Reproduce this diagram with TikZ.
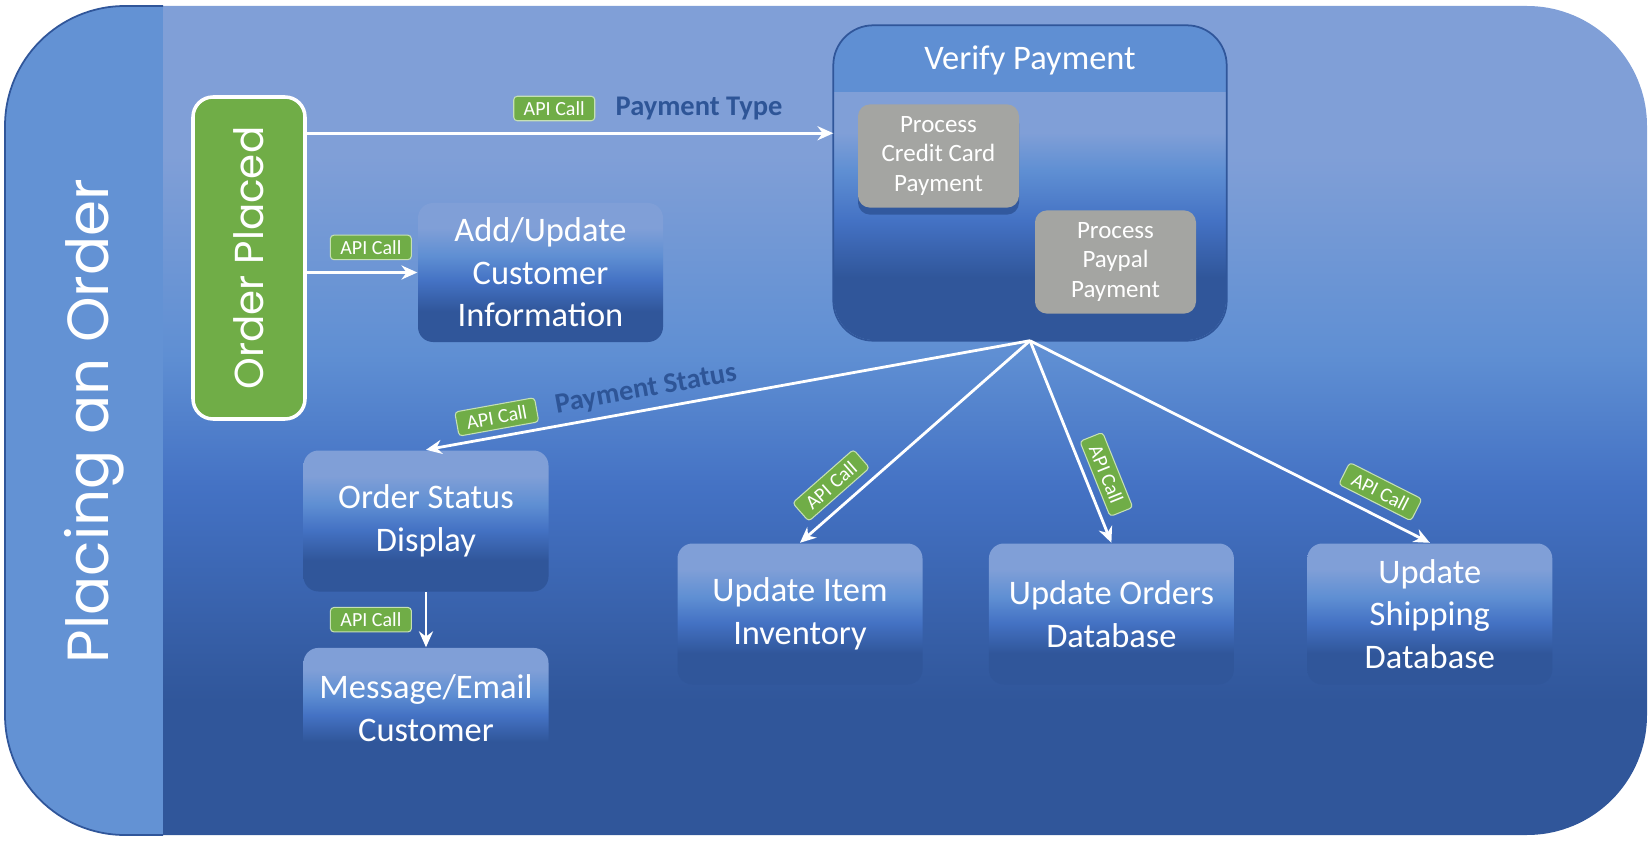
\documentclass[tikz,border=0pt]{standalone}
\usepackage{fontspec}
\setmainfont{Carlito}
\newfontfamily\gothicfont{Poppins}
\usetikzlibrary{positioning, arrows.meta, shadows}

\definecolor{pnllight}{HTML}{809FD7}
\definecolor{pnlband}{HTML}{5F8FD3}
\definecolor{pnlmid}{HTML}{4472C4}
\definecolor{pnldark}{HTML}{30569A}
\definecolor{laneblue}{HTML}{6392D4}
\definecolor{ordergreen}{HTML}{70AD47}
\definecolor{apiedge}{HTML}{C5E0B4}
\definecolor{procgray}{HTML}{A4A5A2}
\definecolor{labelblue}{HTML}{2E5597}

\pgfdeclareverticalshading{panelfade}{100bp}{color(0bp)=(pnldark); color(33bp)=(pnldark); color(46bp)=(pnlmid); color(54bp)=(pnlband); color(66bp)=(pnllight); color(100bp)=(pnllight)}
\pgfdeclareverticalshading{boxfade}{100bp}{color(0bp)=(pnldark); color(36bp)=(pnldark); color(47bp)=(pnlmid); color(56bp)=(pnlband); color(66bp)=(pnllight); color(100bp)=(pnllight)}
\pgfdeclareverticalshading{verifyfade}{100bp}{color(0bp)=(pnldark); color(35bp)=(pnldark); color(44bp)=(pnlmid); color(52bp)=(pnlband); color(58bp)=(pnllight); color(100bp)=(pnllight)}

\begin{document}
\begin{tikzpicture}[
        node distance=0.6cm,
        fadebox/.style={
            rectangle,
            rounded corners=0.15cm,
            shade,
            shading=boxfade,
            minimum width=2.45cm,
            minimum height=1.41cm,
            align=center,
            text=white,
            font=\fontsize{9.8}{12.1}\selectfont
        },
        procbox/.style={
            rectangle,
            rounded corners=0.12cm,
            fill=procgray,
            minimum width=1.61cm,
            minimum height=0.98cm,
            align=center,
            text=white,
            font=\fontsize{7.1}{8.5}\selectfont,
            drop shadow={shadow xshift=0pt, shadow yshift=-0.07cm, fill=pnldark, opacity=0.9}
        },
        apicall/.style={
            rectangle,
            rounded corners=1pt,
            fill=ordergreen,
            draw=apiedge,
            line width=0.3pt,
            minimum width=0.81cm,
            minimum height=0.245cm,
            inner sep=0pt,
            text=white,
            font=\fontsize{5.7}{6}\selectfont
        },
        flowlabel/.style={
            text=labelblue,
            inner sep=0pt,
            font=\bfseries\fontsize{8.1}{9}\selectfont
        },
        arrow/.style={
            -{Stealth[length=4.5pt, width=4pt]},
            white,
            line width=0.8pt
        }
    ]

        \useasboundingbox (0,0) rectangle (16.5,8.42);

        % background panel and swimlane
        \shade[shading=panelfade, rounded corners=1.2cm] (0.05,0.07) rectangle (16.47,8.36);
        \begin{scope}
            \clip[rounded corners=1.2cm] (0.05,0.07) rectangle (16.47,8.36);
            \fill[laneblue] (0.05,0.07) rectangle (1.63,8.36);
        \end{scope}
        \draw[pnldark, line width=0.5pt, rounded corners=1.2cm] (1.63,0.07) -- (0.05,0.07) -- (0.05,8.36) -- (1.63,8.36);

        \node[rotate=90, anchor=base, inner sep=0pt, text=white, font=\gothicfont\fontsize{16.5}{18}\selectfont] (lane) at (1.08,4.21) {Placing an Order};

        \node[rectangle, rounded corners=0.2cm, fill=ordergreen, draw=white, line width=1pt, minimum width=1.12cm, minimum height=3.22cm, text=white, font=\gothicfont\fontsize{11.5}{13}\selectfont] (placed) at (2.49,5.84) {\rotatebox{90}{Order Placed}};

        \node[fadebox, minimum height=1.39cm] (addcust) at (5.405,5.695) {Add/Update\\Customer\\Information};

        % verify payment container
        \node[rectangle, rounded corners=0.4cm, shade, shading=verifyfade, minimum width=3.92cm, minimum height=3.14cm] (verify) at (10.30,6.59) {};
        \coordinate (headline) at (10.30,7.50);
        \begin{scope}
            \clip[rounded corners=0.4cm] (verify.south west) rectangle (verify.north east);
            \fill[pnlband] (verify.north west) rectangle (verify.east |- headline);
        \end{scope}
        \draw[pnldark, line width=0.5pt, rounded corners=0.4cm] (verify.south west) rectangle (verify.north east);
        \node[text=white, font=\fontsize{9.8}{12}\selectfont] (verifytitle) at (10.30,7.82) {Verify Payment};
        \node[procbox] (credit) at (9.385,6.86) {Process\\Credit Card\\Payment};
        \node[procbox] (paypal) at (11.155,5.80) {Process\\Paypal\\Payment};

        \node[fadebox] (status) at (4.26,3.21) {Order Status\\Display};
        \node[fadebox, minimum height=1.20cm, below=0.55cm of status] (message) {Message/Email\\Customer};
        \node[fadebox] (inventory) at (8.00,2.28) {Update Item\\Inventory};
        \node[fadebox, right=0.65cm of inventory] (ordersdb) {Update Orders\\Database};
        \node[fadebox, right=0.72cm of ordersdb] (shipdb) {Update\\Shipping\\Database};

        % connectors
        \coordinate (paystart) at ([yshift=-0.38cm]placed.north east);
        \draw[arrow] (paystart) -- (paystart -| verify.west)
            node[apicall, pos=0.47, above=3.4pt] (apipay) {API Call}
            node[flowlabel, pos=0.745, above=3.4pt] (paytype) {Payment Type};
        \draw[arrow] (placed.east |- addcust.west) -- (addcust.west)
            node[apicall, pos=0.58, above=3.5pt] (apicust) {API Call};
        \draw[arrow] (verify.south) -- (status.north)
            node[apicall, sloped, pos=0.877, above=2pt] (apistatus) {API Call}
            node[flowlabel, sloped, pos=0.63, above=2pt] (paystatus) {Payment Status};
        \draw[arrow] (verify.south) -- (inventory.north)
            node[apicall, sloped, pos=0.80, above=2.8pt] (apiinv) {API Call};
        \draw[arrow] (verify.south) -- (ordersdb.north)
            node[apicall, sloped, pos=0.70, above=2.3pt] (apiorders) {API Call};
        \draw[arrow] (verify.south) -- (shipdb.north)
            node[apicall, sloped, pos=0.85, above=3pt] (apiship) {API Call};
        \draw[arrow] (status.south) -- (message.north)
            node[apicall, midway, left=4pt] (apimsg) {API Call};

    \end{tikzpicture}
\end{document}
